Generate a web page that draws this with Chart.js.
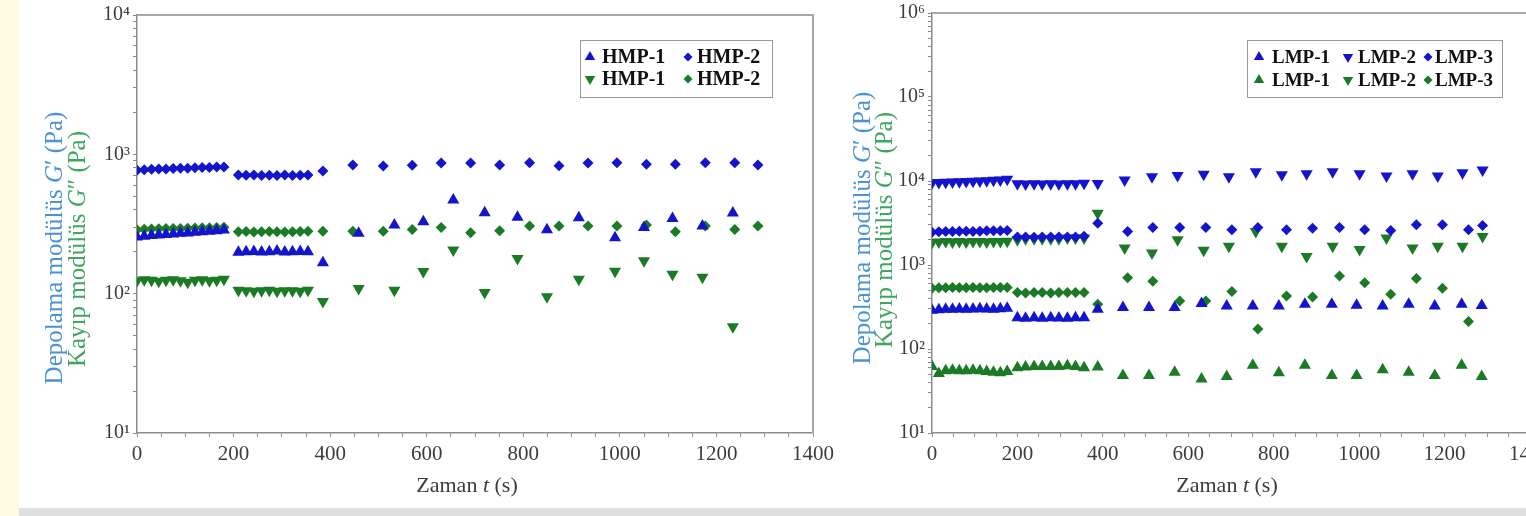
<!DOCTYPE html>
<html>
<head>
<meta charset="utf-8">
<script src="https://cdn.jsdelivr.net/npm/chart.js@4.4.1/dist/chart.umd.min.js"></script>
<style>
  html, body { margin: 0; padding: 0; }
  body { width: 1526px; height: 516px; overflow: hidden; background: #fff; position: relative; }
  #strip { position: absolute; left: 0; top: 0; width: 19px; height: 516px; background: #fffbe3; }
  #bottom { position: absolute; left: 19px; top: 508px; width: 1507px; height: 8px; background: #dfdfdf; }
  #c1 { position: absolute; left: 19px; top: 0; }
  #c2 { position: absolute; left: 839px; top: 0; }
</style>
</head>
<body>
<div id="strip"></div>
<canvas id="c1" width="820" height="508"></canvas>
<canvas id="c2" width="720" height="508"></canvas>
<div id="bottom"></div>
<script>
// --- Sol grafik: HMP numuneleri ---
// zaman noktalari (s)
const tHmpGroup1 = [0, 15, 30, 45, 60, 75, 90, 105, 120, 135, 150, 165, 180];
const tHmpGroup2 = [210, 226, 242, 258, 274, 290, 306, 322, 338, 354];
const tHmp1Single = [385, 459, 533, 593, 655, 720, 788, 849, 915, 990, 1050, 1109, 1171, 1234];
const tHmp2Single = [385, 447, 510, 570, 630, 691, 751, 813, 874, 934, 994, 1055, 1115, 1177, 1238, 1286];

// HMP-1 depolama modulu G' (Pa)
const hmp1Storage = [255, 258, 261, 264, 266, 268, 271, 273, 276, 278, 281, 283, 286,
  198, 200, 201, 199, 200, 202, 199, 200, 201, 200,
  167, 271, 311, 328, 470, 381, 353, 287, 351, 252, 299, 347, 306, 380];
// HMP-1 kayip modulu G'' (Pa)
const hmp1Loss = [124, 126, 125, 123, 125, 126, 124, 121, 125, 126, 124, 125, 127,
  106, 105, 104, 105, 106, 104, 105, 105, 104, 106,
  88, 109, 106, 144, 206, 102, 179, 95, 127, 145, 172, 138, 131, 58];
// HMP-2 depolama modulu G' (Pa)
const hmp2Storage = [770, 775, 780, 784, 786, 790, 794, 796, 800, 804, 806, 810, 812,
  712, 708, 710, 706, 708, 705, 710, 706, 708, 712,
  760, 838, 825, 835, 865, 865, 838, 870, 828, 865, 870, 848, 848, 870, 870, 838];
// HMP-2 kayip modulu G'' (Pa)
const hmp2Loss = [288, 290, 291, 292, 293, 293, 294, 295, 296, 297, 297, 298, 300,
  278, 279, 277, 278, 279, 278, 277, 278, 279, 280,
  281, 281, 281, 289, 299, 274, 283, 306, 306, 306, 306, 311, 278, 306, 289, 306];

// --- Sag grafik: LMP numuneleri ---
const tLmpGroup1 = [0, 16, 32, 48, 64, 80, 96, 112, 128, 144, 160, 176];
const tLmpGroup2 = [200, 219, 239, 258, 278, 297, 317, 336, 356];
const tLmp1Single = [388, 447, 508, 568, 631, 690, 751, 812, 873, 936, 994, 1055, 1116, 1177, 1240, 1287];
const tLmp2Single = [388, 451, 515, 575, 636, 695, 758, 819, 877, 938, 1001, 1064, 1125, 1184, 1242, 1289];
const tLmp3Single = [388, 458, 517, 580, 641, 702, 763, 830, 891, 954, 1013, 1074, 1134, 1195, 1256, 1289];

const lmp1Storage = [290, 294, 297, 298, 300, 298, 300, 302, 300, 298, 301, 305,
  235, 232, 235, 233, 235, 234, 232, 235, 236,
  298, 311, 311, 311, 347, 326, 326, 326, 341, 341, 332, 326, 341, 326, 341, 330];
const lmp2Storage = [9500, 9600, 9650, 9700, 9800, 9850, 9900, 10000, 10100, 10200, 10300, 10500,
  9300, 9200, 9250, 9200, 9300, 9200, 9250, 9300, 9400,
  9330, 10300, 11200, 11600, 12000, 11200, 12850, 11840, 12170, 12850, 12170, 11500, 12170, 11500, 12500, 13560];
const lmp3Storage = [2450, 2480, 2500, 2500, 2520, 2520, 2500, 2530, 2550, 2550, 2560, 2580,
  2150, 2150, 2140, 2150, 2160, 2150, 2150, 2160, 2200,
  3150, 2510, 2800, 2800, 2800, 2630, 2800, 2630, 2740, 2800, 2630, 2570, 3010, 3010, 2630, 2950];
const lmp1Loss = [62, 51, 55, 56, 55, 55, 56, 55, 54, 53, 52, 54,
  60, 61, 62, 62, 62, 62, 63, 62, 60,
  61, 48.5, 48.5, 53, 44, 47, 64, 52, 64, 48.5, 48.5, 56.6, 53, 48.5, 64, 47];
const lmp2Loss = [1850, 1880, 1900, 1880, 1900, 1880, 1900, 1900, 1880, 1900, 1900, 1920,
  2000, 2050, 2050, 2050, 2050, 2050, 2100, 2100, 2100,
  4130, 1590, 1390, 2000, 1500, 1667, 2510, 1667, 1260, 1667, 1525, 2090, 1590, 1667, 1667, 2190];
const lmp3Loss = [530, 535, 535, 540, 535, 535, 540, 535, 535, 540, 540, 540,
  470, 465, 470, 470, 465, 470, 470, 470, 470,
  341, 703, 642, 373, 373, 482, 173, 428, 417, 738, 615, 448, 692, 527, 213];

const SERIF = '"Liberation Serif", "DejaVu Serif", serif';
const BLUE = '#1414cc';
const GREEN = '#1b7a26';
const AXIS = '#8c8c8c';
const TICK = '#3c3c3c';
const SUP = { 1: '\u00b9', 2: '\u00b2', 3: '\u00b3', 4: '\u2074', 5: '\u2075', 6: '\u2076' };

function pts(times, values) {
  return values.map((v, i) => ({ x: times[i], y: v }));
}

function series(label, times, values, color, shape) {
  const down = shape === 'down';
  return {
    label: label,
    data: pts(times, values),
    showLine: false,
    pointStyle: shape === 'diamond' ? 'rectRot' : 'triangle',
    rotation: down ? 180 : 0,
    pointRadius: shape === 'diamond' ? 5.5 : 7,
    backgroundColor: color,
    borderColor: color,
    borderWidth: 0
  };
}

// log eksende 1..9 x 10^n tikleri, etiket sadece onluklarda
function logTicks(scale) {
  const out = [];
  const lo = Math.round(Math.log10(scale.min));
  const hi = Math.round(Math.log10(scale.max));
  for (let e = lo; e < hi; e++) {
    for (let k = 1; k < 10; k++) out.push({ value: k * Math.pow(10, e) });
  }
  out.push({ value: Math.pow(10, hi) });
  scale.ticks = out;
}

function decadeLabel(v) {
  const e = Math.log10(v);
  return Math.abs(e - Math.round(e)) < 1e-9 ? '10' + SUP[Math.round(e)] : '';
}

function xAxis() {
  return {
    type: 'linear', min: 0, max: 1400,
    afterFit: s => { s.height = 75; },
    ticks: {
      stepSize: 50, maxTicksLimit: 40, autoSkip: false, maxRotation: 0, padding: 5,
      color: TICK, font: { family: SERIF, size: 21 },
      callback: v => (v % 200 === 0 ? String(v) : '')
    },
    grid: { drawOnChartArea: false, tickLength: 4, color: AXIS },
    border: { color: AXIS, width: 1.5 }
  };
}

function yAxis(min, max, width) {
  return {
    type: 'logarithmic', min: min, max: max,
    afterBuildTicks: logTicks,
    afterFit: s => { s.width = width; },
    ticks: {
      autoSkip: false, padding: 3, color: TICK,
      font: { family: SERIF, size: 20, lineHeight: 1 },
      callback: decadeLabel
    },
    grid: { drawOnChartArea: false, tickLength: 4, color: AXIS },
    border: { color: AXIS, width: 1.5 }
  };
}

function drawParts(ctx, parts, cx, cy, rot, color, size) {
  ctx.save();
  ctx.translate(cx, cy);
  ctx.rotate(rot);
  ctx.fillStyle = color;
  ctx.textBaseline = 'middle';
  ctx.textAlign = 'left';
  const fontOf = p => (p[1] ? 'italic ' : '') + size + 'px ' + SERIF;
  let total = 0;
  parts.forEach(p => { ctx.font = fontOf(p); total += ctx.measureText(p[0]).width; });
  let x = -total / 2;
  parts.forEach(p => {
    ctx.font = fontOf(p);
    ctx.fillText(p[0], x, 0);
    x += ctx.measureText(p[0]).width;
  });
  ctx.restore();
}

function drawMarker(ctx, ds, x, y) {
  const r = ds.pointStyle === 'rectRot' ? 4.5 : 6;
  ctx.save();
  ctx.fillStyle = ds.backgroundColor;
  ctx.translate(x, y);
  ctx.rotate((ds.rotation || 0) * Math.PI / 180);
  ctx.beginPath();
  if (ds.pointStyle === 'triangle') {
    ctx.moveTo(0, -r); ctx.lineTo(r * 0.866, r * 0.5); ctx.lineTo(-r * 0.866, r * 0.5);
  } else {
    ctx.moveTo(0, -r); ctx.lineTo(r, 0); ctx.lineTo(0, r); ctx.lineTo(-r, 0);
  }
  ctx.closePath();
  ctx.fill();
  ctx.restore();
}

// cerceve, eksen basliklari ve kutulu lejant
const decorPlugin = {
  id: 'decor',
  afterDraw(chart, args, opts) {
    const ctx = chart.ctx;
    const a = chart.chartArea;
    ctx.save();
    ctx.strokeStyle = '#a8a8a8';
    ctx.lineWidth = 2;
    ctx.beginPath();
    ctx.moveTo(a.left, a.top);
    ctx.lineTo(a.right, a.top);
    ctx.lineTo(a.right, a.bottom);
    ctx.stroke();

    drawParts(ctx, [['Zaman ', false], ['t', true], [' (s)', false]], opts.xTitle[0], opts.xTitle[1], 0, TICK, 22);
    drawParts(ctx, [['Depolama mod\u00fcl\u00fcs ', false], ['G', true], ['\u2032 (Pa)', false]],
      opts.yTitle1[0], opts.yTitle1[1], -Math.PI / 2, '#4b93d1', 25);
    drawParts(ctx, [['Kay\u0131p mod\u00fcl\u00fcs ', false], ['G', true], ['\u2033 (Pa)', false]],
      opts.yTitle2[0], opts.yTitle2[1], -Math.PI / 2, '#3fa65f', 25);

    const b = opts.box;
    ctx.strokeStyle = '#9a9a9a';
    ctx.lineWidth = 1;
    ctx.strokeRect(b[0] + 0.5, b[1] + 0.5, b[2], b[3]);
    ctx.font = 'bold ' + opts.fontSize + 'px ' + SERIF;
    ctx.fillStyle = '#111';
    ctx.textBaseline = 'middle';
    ctx.textAlign = 'left';
    const n = opts.cols.length;
    chart.data.datasets.forEach((ds, i) => {
      const col = opts.cols[i % n];
      const y = opts.rows[Math.floor(i / n)];
      drawMarker(ctx, ds, col[0], y);
      ctx.fillText(ds.label, col[1], y + 1);
    });
    ctx.restore();
  }
};

const hmpAll1 = tHmpGroup1.concat(tHmpGroup2, tHmp1Single);
const hmpAll2 = tHmpGroup1.concat(tHmpGroup2, tHmp2Single);

new Chart(document.getElementById('c1'), {
  type: 'scatter',
  data: {
    datasets: [
      series('HMP-1', hmpAll1, hmp1Storage, BLUE, 'up'),
      series('HMP-2', hmpAll2, hmp2Storage, BLUE, 'diamond'),
      series('HMP-1', hmpAll1, hmp1Loss, GREEN, 'down'),
      series('HMP-2', hmpAll2, hmp2Loss, GREEN, 'diamond')
    ]
  },
  options: {
    responsive: false,
    animation: false,
    layout: { padding: { top: 15, right: 26, left: 0, bottom: 0 } },
    scales: { x: xAxis(), y: yAxis(10, 10000, 118) },
    plugins: {
      legend: { display: false },
      tooltip: { enabled: false },
      decor: {
        xTitle: [448, 486], yTitle1: [36, 248], yTitle2: [59, 249],
        box: [561, 40, 192, 57], cols: [[571, 583], [669, 678]], rows: [57, 79], fontSize: 20
      }
    }
  },
  plugins: [decorPlugin]
});

const lmpAll1 = tLmpGroup1.concat(tLmpGroup2, tLmp1Single);
const lmpAll2 = tLmpGroup1.concat(tLmpGroup2, tLmp2Single);
const lmpAll3 = tLmpGroup1.concat(tLmpGroup2, tLmp3Single);

new Chart(document.getElementById('c2'), {
  type: 'scatter',
  data: {
    datasets: [
      series('LMP-1', lmpAll1, lmp1Storage, BLUE, 'up'),
      series('LMP-2', lmpAll2, lmp2Storage, BLUE, 'down'),
      series('LMP-3', lmpAll3, lmp3Storage, BLUE, 'diamond'),
      series('LMP-1', lmpAll1, lmp1Loss, GREEN, 'up'),
      series('LMP-2', lmpAll2, lmp2Loss, GREEN, 'down'),
      series('LMP-3', lmpAll3, lmp3Loss, GREEN, 'diamond')
    ]
  },
  options: {
    responsive: false,
    animation: false,
    layout: { padding: { top: 10, right: 29, left: 0, bottom: 0 } },
    scales: { x: xAxis(), y: yAxis(10, 1000000, 93) },
    plugins: {
      legend: { display: false },
      tooltip: { enabled: false },
      decor: {
        xTitle: [388, 486], yTitle1: [24, 228], yTitle2: [46, 230],
        box: [408, 40, 255, 57], cols: [[420, 433], [509, 519], [589, 596]], rows: [57, 80], fontSize: 19
      }
    }
  },
  plugins: [decorPlugin]
});
</script>
</body>
</html>
